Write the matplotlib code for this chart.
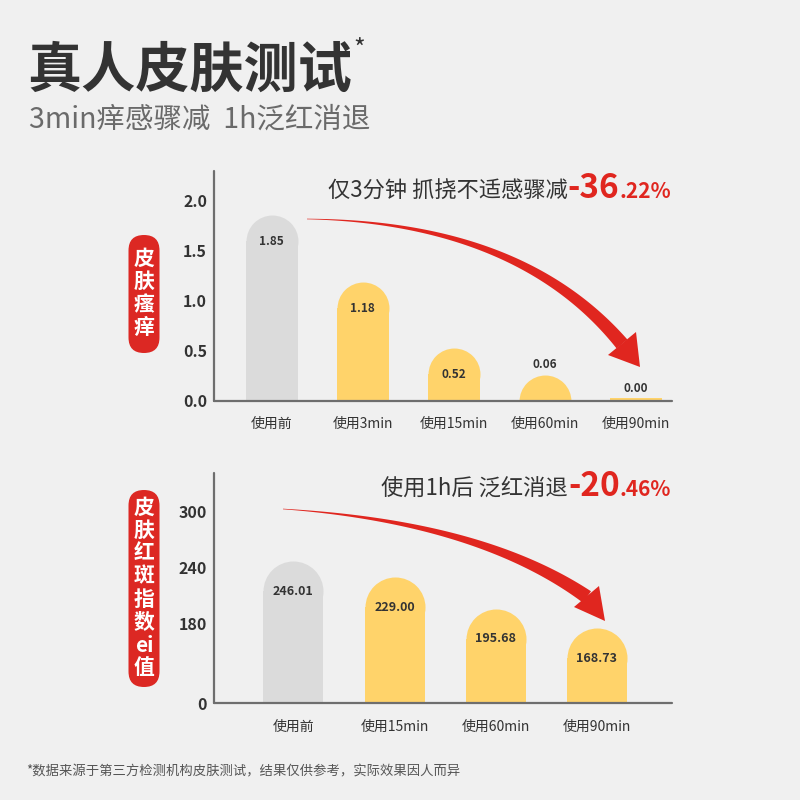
import numpy as np
import matplotlib
matplotlib.use('Agg')
import matplotlib.pyplot as plt
from matplotlib.patches import FancyBboxPatch, Polygon
from matplotlib.ticker import NullLocator

plt.rcParams['font.family'] = ['Noto Sans CJK SC', 'DejaVu Sans']

# data
itch_labels = ['使用前', '使用3min', '使用15min', '使用60min', '使用90min']
itch_values = [1.85, 1.18, 0.52, 0.06, 0.00]
itch_ticks = [0.0, 0.5, 1.0, 1.5, 2.0]

ei_labels = ['使用前', '使用15min', '使用60min', '使用90min']
ei_values = [246.01, 229.00, 195.68, 168.73]
ei_ticks = [0, 180, 240, 300]

BG = '#f0f0f0'
DARK = '#333333'
RED = '#e0261f'
GREY_BAR = '#dbdbdb'
YELLOW = '#ffd36a'
AXIS = '#6e6e6e'

fig = plt.figure(figsize=(8, 8), dpi=100, facecolor=BG)

# pixel-space overlay for titles, pills and arrows
deco = fig.add_axes([0, 0, 1, 1], zorder=3)
deco.set_xlim(0, 800)
deco.set_ylim(800, 0)
deco.axis('off')
deco.patch.set_alpha(0)


def style_axes(ax):
    ax.set_facecolor('none')
    ax.spines[['top', 'right']].set_visible(False)
    for s in ('left', 'bottom'):
        ax.spines[s].set_color(AXIS)
        ax.spines[s].set_linewidth(1.6)
        ax.spines[s].set_capstyle('round')
    ax.tick_params(length=0, colors=DARK)
    ax.tick_params(axis='y', pad=5, labelsize=11.5)
    ax.tick_params(axis='x', pad=12, labelsize=10)


def pill_bars(ax, values, width, fmt, fsize):
    trans = ax.transData
    inv = trans.inverted()
    for i, v in enumerate(values):
        c = GREY_BAR if i == 0 else YELLOW
        (xl, y0), (xr, ytop) = trans.transform([(i - width / 2, 0), (i + width / 2, v)])
        r = (xr - xl) / 2
        if v <= 0:
            top = y0 + 2.5
            h = inv.transform((xl, top))[1]
            ax.bar(i, h, width, color=c, lw=0, zorder=2)
        else:
            cy = max(ytop - r, y0)
            cy_d = inv.transform((xl, cy))[1]
            ax.bar(i, cy_d, width, color=c, lw=0, zorder=2)
            ax.scatter([i], [cy_d], s=(2 * r * 72 / fig.dpi) ** 2, color=c, lw=0, zorder=2)
            top = cy + r
        if top - y0 > 1.5 * r:
            ly = top - r
        else:
            ly = top + 10
        ax.text(i, inv.transform((xl, ly))[1], fmt.format(v), ha='center', va='center',
                fontsize=fsize, fontweight='bold', color=DARK, zorder=4)


# ---- top chart: 皮肤瘙痒
ax1 = fig.add_axes([214 / 800, 1 - 400.5 / 800, 458 / 800, 229.5 / 800])
style_axes(ax1)
ax1.set_xlim(-0.634, 4.4)
ax1.set_ylim(0, 2.295)
ax1.set_yticks(itch_ticks, ['%.1f' % t for t in itch_ticks], fontweight='bold')
ax1.set_xticks(range(len(itch_labels)), itch_labels, fontweight='medium')
pill_bars(ax1, itch_values, 0.571, '{:.2f}', 8.5)


# ---- bottom chart: 皮肤红斑指数ei值 (compressed below 180)
def ei_fwd(v):
    v = np.asarray(v, float)
    return np.where(v < 180, v * 85.7 / 180, v - 180 + 85.7)


def ei_inv(u):
    u = np.asarray(u, float)
    return np.where(u < 85.7, u * 180 / 85.7, u + 180 - 85.7)


ax2 = fig.add_axes([214 / 800, 1 - 703.3 / 800, 458 / 800, 230.6 / 800])
style_axes(ax2)
ax2.set_yscale('function', functions=(ei_fwd, ei_inv))
ax2.yaxis.set_minor_locator(NullLocator())
ax2.set_xlim(-0.784, 3.742)
ax2.set_ylim(0, 341)
ax2.set_yticks(ei_ticks, [str(t) for t in ei_ticks], fontweight='bold')
ax2.set_xticks(range(len(ei_labels)), ei_labels, fontweight='medium')
pill_bars(ax2, ei_values, 0.593, '{:.2f}', 9)


# ---- red pills on the left
def side_pill(y0, y1, chars):
    deco.add_patch(FancyBboxPatch((128.5, y0), 31, y1 - y0,
                                  boxstyle='round,pad=0,rounding_size=15.5',
                                  fc='#dc2823', ec='none'))
    mid = (y0 + y1) / 2 - 1
    n = len(chars)
    for k, ch in enumerate(chars):
        deco.text(144, mid + (k - (n - 1) / 2) * 23, ch, ha='center', va='center',
                  fontsize=15, fontweight='bold', color='white')


side_pill(235, 353, ['皮', '肤', '瘙', '痒'])
side_pill(490, 687, ['皮', '肤', '红', '斑', '指', '数', 'ei', '值'])


# ---- curved tapered arrows
def curved_arrow(p0, p1, p2, w_end, head):
    p0, p1, p2 = map(np.array, (p0, p1, p2))
    t = np.linspace(0, 1, 120)[:, None]
    pts = (1 - t) ** 2 * p0 + 2 * (1 - t) * t * p1 + t ** 2 * p2
    d = 2 * (1 - t) * (p1 - p0) + 2 * t * (p2 - p1)
    nrm = np.column_stack([-d[:, 1], d[:, 0]]) / np.linalg.norm(d, axis=1)[:, None]
    w = (0.6 + (w_end - 0.6) * t[:, 0] ** 1.2)[:, None]
    poly = np.vstack([pts + nrm * w / 2, (pts - nrm * w / 2)[::-1]])
    deco.add_patch(Polygon(poly, closed=True, fc=RED, ec='none'))
    deco.add_patch(Polygon(head, closed=True, fc=RED, ec='none'))


curved_arrow((307, 219), (520, 222), (622, 344), 14,
             [(608, 355), (636, 332), (640, 367)])
curved_arrow((283, 509), (480, 522), (587, 597), 14,
             [(574, 607), (599, 586), (605, 621)])

# ---- text
renderer = fig.canvas.get_renderer()

t = deco.text(27, 71, '真人皮肤测试', ha='left', va='center', fontsize=39,
              fontweight='bold', color=DARK)
bb = t.get_window_extent(renderer)
deco.text(27 + bb.width + 2, 50, '*', ha='left', va='center', fontsize=18, color=DARK)
deco.text(29, 120, '3min痒感骤减  1h泛红消退', ha='left', va='center', fontsize=20.5,
          color='#6a6a6a')


def right_chain(parts, x_right, y_base):
    x = x_right
    for s, size, color, weight in reversed(parts):
        tx = deco.text(x, y_base, s, ha='right', va='baseline', fontsize=size,
                       color=color, fontweight=weight)
        x -= tx.get_window_extent(renderer).width


right_chain([('仅3分钟 抓挠不适感骤减', 16, DARK, 'medium'),
             ('-36', 24, RED, 'bold'),
             ('.22%', 15, RED, 'bold')], 671, 198)
right_chain([('使用1h后 泛红消退', 16, DARK, 'medium'),
             ('-20', 24, RED, 'bold'),
             ('.46%', 15, RED, 'bold')], 671, 496)

deco.text(26, 771, '*数据来源于第三方检测机构皮肤测试，结果仅供参考，实际效果因人而异',
          ha='left', va='center', fontsize=9.6, color='#555555')

fig.savefig('out.png', dpi=100, facecolor=BG)
